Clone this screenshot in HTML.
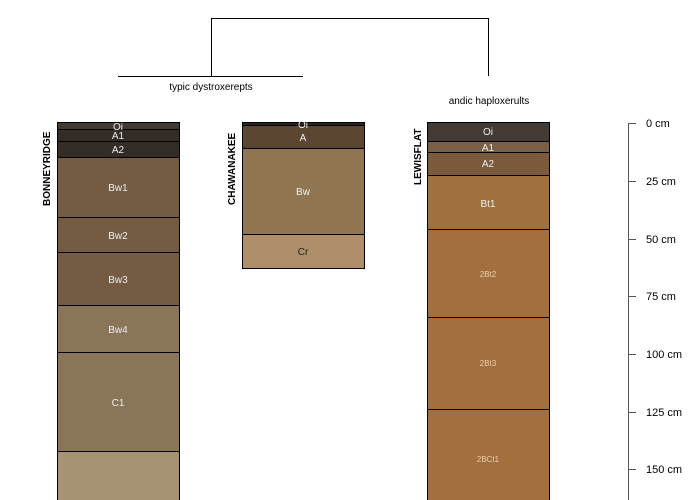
<!DOCTYPE html>
<html><head><style>body{margin:0;background:#fff}svg{display:block}text{font-family:"Liberation Sans",sans-serif}</style></head>
<body>
<svg width="700" height="500" viewBox="0 0 700 500" xmlns="http://www.w3.org/2000/svg">
<g stroke="#000" stroke-width="1" fill="none">
<path d="M211.5 76V18.5H488.5V76"/>
<path d="M118 76.5H303"/>
</g>
<text x="211" y="90" font-size="10" text-anchor="middle" fill="#000">typic dystroxerepts</text>
<text x="489" y="104" font-size="10" text-anchor="middle" fill="#000">andic haploxerults</text>

<g stroke="#000" stroke-width="1">
<!-- Bonneyridge -->
<rect x="57.5" y="122.5" width="122" height="7" fill="#423a33"/>
<rect x="57.5" y="129.5" width="122" height="12" fill="#332c27"/>
<rect x="57.5" y="141.5" width="122" height="16" fill="#332c27"/>
<rect x="57.5" y="157.5" width="122" height="60" fill="#735c42"/>
<rect x="57.5" y="217.5" width="122" height="35" fill="#735c42"/>
<rect x="57.5" y="252.5" width="122" height="53" fill="#735c42"/>
<rect x="57.5" y="305.5" width="122" height="47" fill="#8b7558"/>
<rect x="57.5" y="352.5" width="122" height="99" fill="#8b7558"/>
<rect x="57.5" y="451.5" width="122" height="60" fill="#a89274"/>
<!-- Chawanakee -->
<rect x="242.5" y="122.5" width="122" height="3" fill="#2a2520"/>
<rect x="242.5" y="125.5" width="122" height="23" fill="#5a4631"/>
<rect x="242.5" y="148.5" width="122" height="86" fill="#8f7550"/>
<rect x="242.5" y="234.5" width="122" height="34" fill="#ae8f69"/>
<!-- Lewisflat -->
<rect x="427.5" y="122.5" width="122" height="19" fill="#433a33"/>
<rect x="427.5" y="141.5" width="122" height="11" fill="#7a5f47"/>
<rect x="427.5" y="152.5" width="122" height="23" fill="#7b5a3c"/>
<rect x="427.5" y="175.5" width="122" height="54" fill="#a0703f"/>
<rect x="427.5" y="229.5" width="122" height="88" fill="#a36f3f"/>
<rect x="427.5" y="317.5" width="122" height="92" fill="#a36f3f"/>
<rect x="427.5" y="409.5" width="122" height="100" fill="#a36f3f"/>
</g>

<g font-size="10" text-anchor="middle" fill="#eee">
<text x="118" y="130">Oi</text>
<text x="118" y="139">A1</text>
<text x="118" y="153">A2</text>
<text x="118" y="191">Bw1</text>
<text x="118" y="239">Bw2</text>
<text x="118" y="283">Bw3</text>
<text x="118" y="333">Bw4</text>
<text x="118" y="406">C1</text>
<text x="303" y="128">Oi</text>
<text x="303" y="141">A</text>
<text x="303" y="195">Bw</text>
<text x="303" y="255" fill="#222">Cr</text>
<text x="488" y="135">Oi</text>
<text x="488" y="151">A1</text>
<text x="488" y="167">A2</text>
<text x="488" y="207">Bt1</text>
<text x="488" y="277" font-size="8" fill="#e6cfb0">2Bt2</text>
<text x="488" y="366" font-size="8" fill="#e6cfb0">2Bt3</text>
<text x="488" y="462" font-size="8" fill="#e6cfb0">2BCt1</text>
</g>

<g font-size="10" font-weight="bold" fill="#000">
<text transform="translate(50,206) rotate(-90)">BONNEYRIDGE</text>
<text transform="translate(235,205) rotate(-90)">CHAWANAKEE</text>
<text transform="translate(421,185) rotate(-90)">LEWISFLAT</text>
</g>

<g stroke="#555" stroke-width="1">
<path d="M628.5 123V500"/>
<path d="M628 123.5H636M628 181.5H636M628 239.5H636M628 296.5H636M628 354.5H636M628 412.5H636M628 469.5H636"/>
</g>
<g font-size="11" fill="#000">
<text x="646" y="127">0 cm</text>
<text x="646" y="185">25 cm</text>
<text x="646" y="243">50 cm</text>
<text x="646" y="300">75 cm</text>
<text x="646" y="358">100 cm</text>
<text x="646" y="416">125 cm</text>
<text x="646" y="473">150 cm</text>
</g>
</svg>
</body></html>
